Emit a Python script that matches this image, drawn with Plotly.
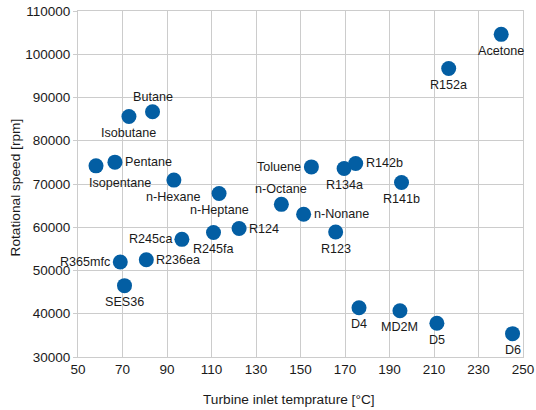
import plotly.graph_objects as go

fluids = ["Butane", "Isobutane", "Isopentane", "Pentane", "n-Hexane", "n-Heptane",
          "Toluene", "n-Octane", "n-Nonane", "R123", "R134a", "R142b", "R141b",
          "R152a", "Acetone", "R245ca", "R245fa", "R124", "R365mfc", "R236ea",
          "SES36", "D4", "MD2M", "D5", "D6"]
inlet_temp_c = [83.5, 72.9, 58.1, 66.6, 93.1, 113.4,
                154.9, 141.4, 151.4, 165.8, 169.6, 174.8, 195.4,
                216.6, 240.2, 96.7, 110.9, 122.4, 69.0, 80.7,
                70.9, 176.3, 194.7, 211.3, 245.3]
speed_rpm = [86700, 85600, 74200, 75050, 70900, 67800,
             73950, 65300, 63000, 58900, 73600, 74750, 70350,
             96700, 104600, 57200, 58800, 59700, 51970, 52500,
             46500, 41400, 40700, 37800, 35400]

x_ticks = [50, 70, 90, 110, 130, 150, 170, 190, 210, 230, 250]
y_ticks = [30000, 40000, 50000, 60000, 70000, 80000, 90000, 100000, 110000]

# label placement (style only)
label_pos = ["top", "bottom", "bottomright", "right", "bottom", "bottom",
             "left", "top", "right", "bottom", "bottom", "right", "bottom",
             "bottom", "bottom", "left", "bottom", "right", "left", "right",
             "bottom", "bottom", "bottom", "bottom", "bottom"]

FONT = "Liberation Sans, Arial, sans-serif"
BLUE = "#035ea3"
GRID = "#cccccc"

fig = go.Figure()
fig.add_trace(go.Scatter(
    x=inlet_temp_c, y=speed_rpm, mode="markers",
    marker=dict(size=15, color=BLUE, line=dict(width=0)),
    hovertext=fluids, showlegend=False, cliponaxis=False,
))

annotations = []
for name, xv, yv, pos in zip(fluids, inlet_temp_c, speed_rpm, label_pos):
    a = dict(x=xv, y=yv, xref="x", yref="y", text=name, showarrow=False,
             font=dict(family=FONT, size=12.6, color="#1a1a1a"), borderpad=0)
    if pos == "top":
        a.update(xanchor="center", yanchor="middle", yshift=15)
    elif pos == "bottom":
        a.update(xanchor="center", yanchor="middle", yshift=-16.5)
    elif pos == "bottomright":
        a.update(xanchor="center", yanchor="middle", yshift=-17, xshift=24)
    elif pos == "right":
        a.update(xanchor="left", yanchor="middle", xshift=9)
    elif pos == "left":
        a.update(xanchor="right", yanchor="middle", xshift=-9)
    annotations.append(a)

annotations.append(dict(text="Turbine inlet temprature [°C]", xref="paper", yref="paper",
                        x=0.475, y=0, yshift=-42, xanchor="center", yanchor="middle",
                        showarrow=False, font=dict(family=FONT, size=13.7, color="#1a1a1a")))
annotations.append(dict(text="Rotational speed [rpm]", xref="paper", yref="paper",
                        x=0, y=0.49, xshift=-63, xanchor="center", yanchor="middle",
                        textangle=-90, showarrow=False,
                        font=dict(family=FONT, size=13.7, color="#1a1a1a")))

fig.update_layout(
    width=536, height=410,
    margin=dict(l=78, r=13, t=11, b=53, autoexpand=False),
    paper_bgcolor="white", plot_bgcolor="white",
    font=dict(family=FONT, size=13.5, color="#1a1a1a"),
    annotations=annotations,
    xaxis=dict(range=[50, 250], tickvals=x_ticks, ticktext=[str(v) for v in x_ticks],
               showgrid=True, gridcolor=GRID, gridwidth=1, zeroline=False,
               showline=True, linecolor=GRID, linewidth=1, mirror=True,
               ticks="", tickfont=dict(size=13.5), automargin=False),
    yaxis=dict(range=[30000, 110000], tickvals=y_ticks, ticktext=[str(v) for v in y_ticks],
               showgrid=True, gridcolor=GRID, gridwidth=1, zeroline=False,
               showline=True, linecolor=GRID, linewidth=1, mirror=True,
               ticks="outside", ticklen=4, tickcolor=GRID, tickfont=dict(size=13.5),
               automargin=False),
)

fig.write_html("out.html",
               config={"displayModeBar": False},
               post_script="document.body.style.margin='0';document.body.style.overflow='hidden';")
